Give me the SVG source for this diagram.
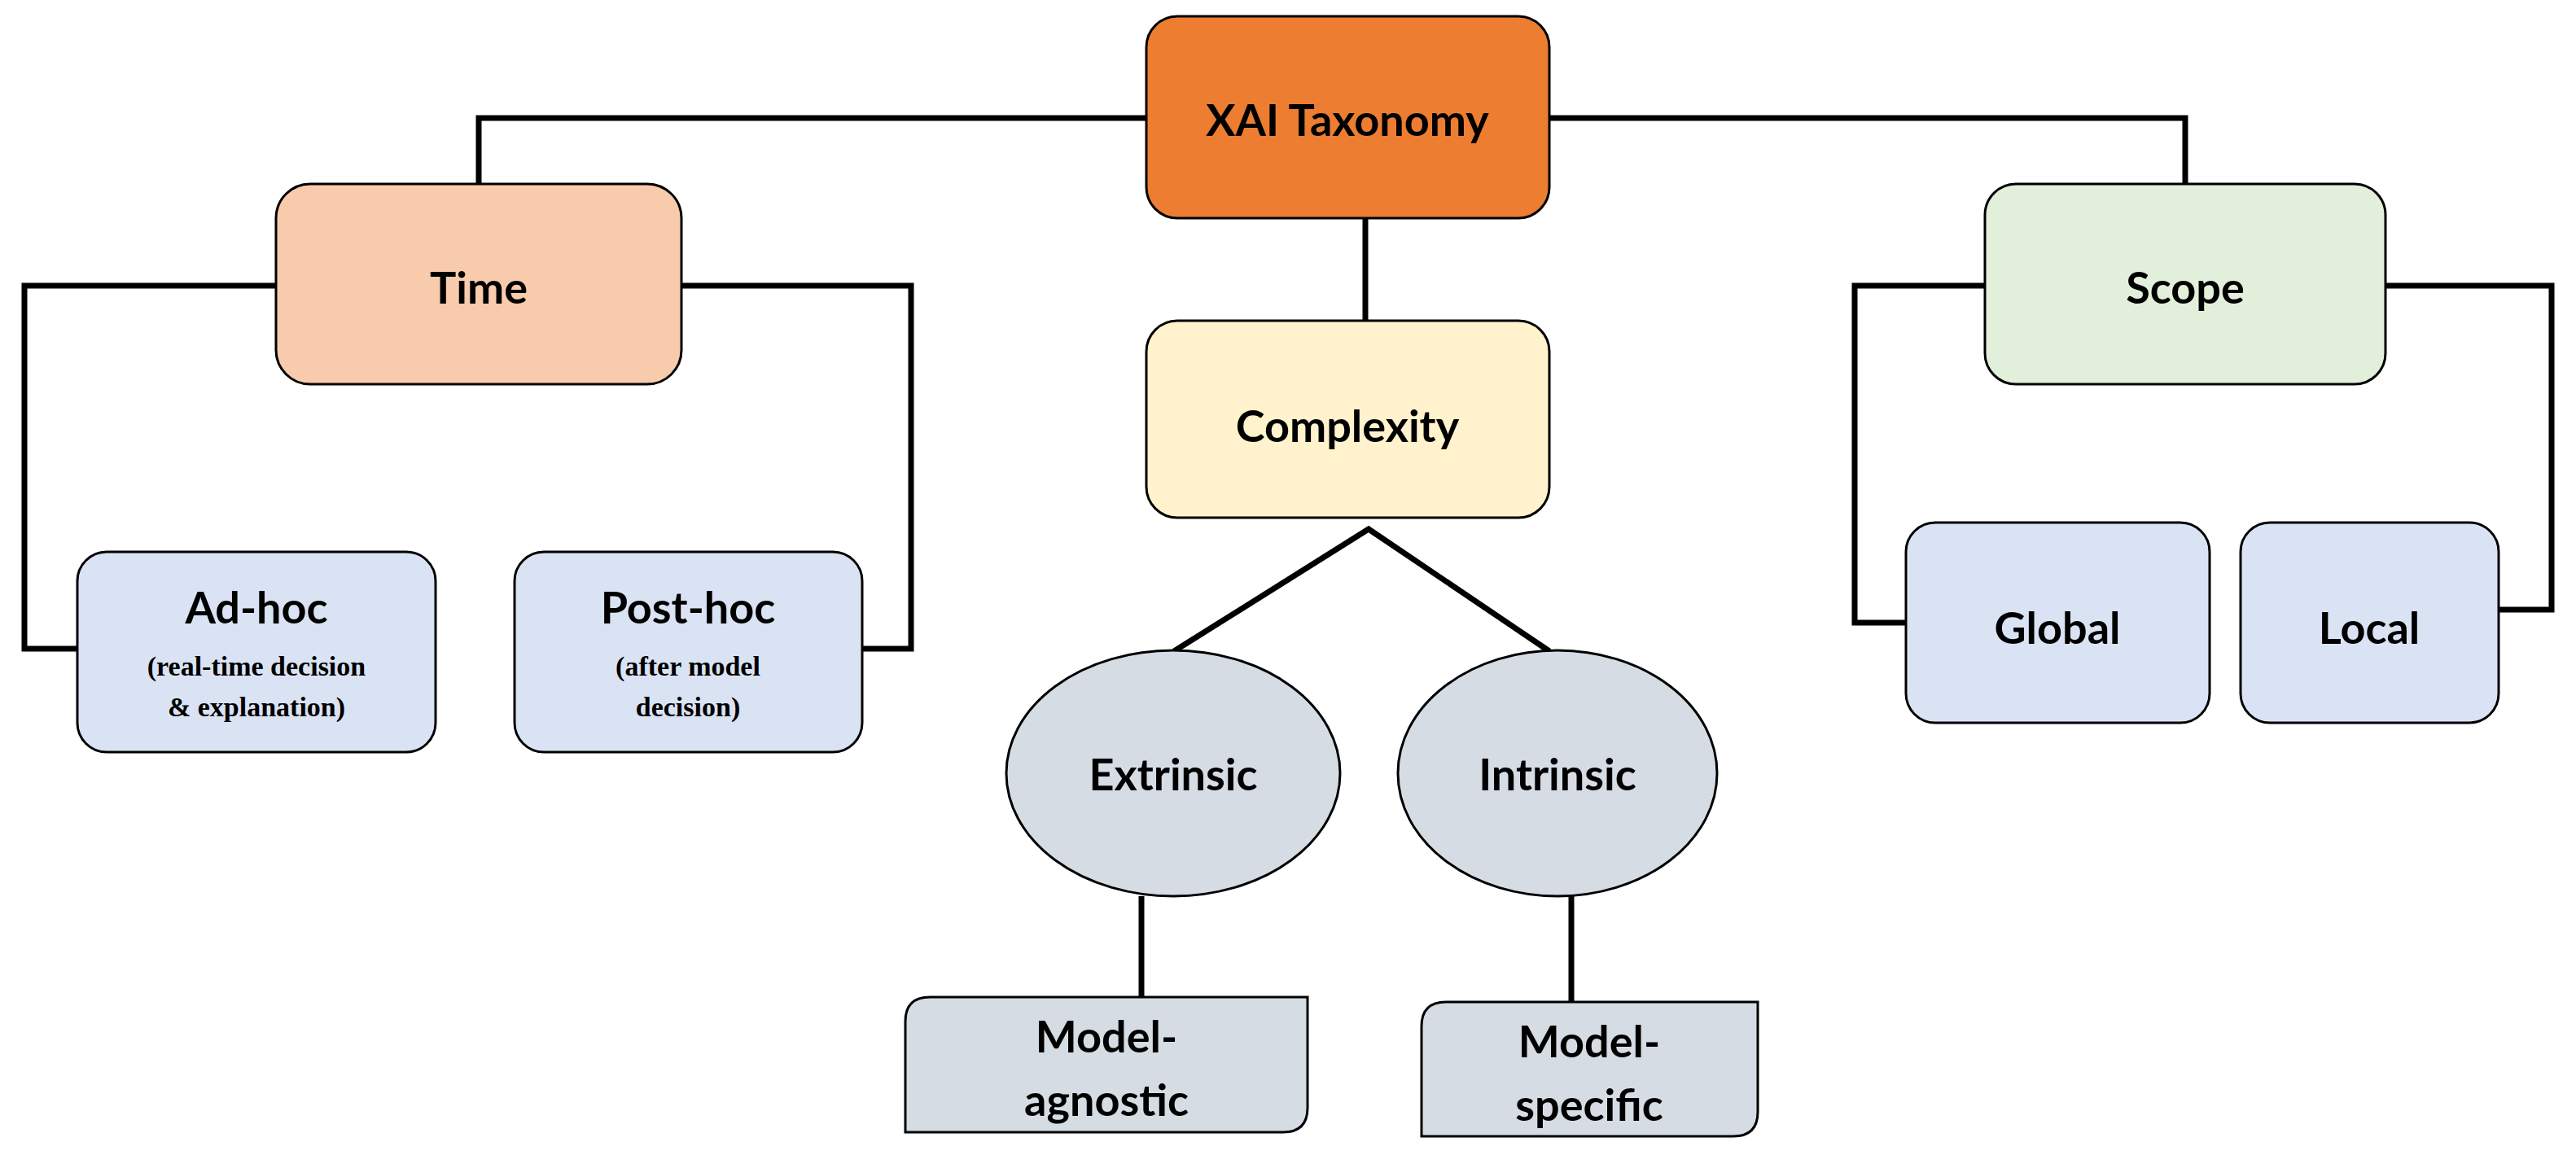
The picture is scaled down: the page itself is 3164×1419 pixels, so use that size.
<svg xmlns="http://www.w3.org/2000/svg" width="3164" height="1419" viewBox="0 0 3164 1419">
<style>
.n{stroke:#000;stroke-width:3}
.t{font-family:Lato,"Open Sans",sans-serif;font-weight:bold;font-size:54px;fill:#000;text-anchor:middle;dominant-baseline:central}
.s{font-family:"Liberation Serif",serif;font-weight:bold;font-size:34px;fill:#000;text-anchor:middle;dominant-baseline:central}
.c{fill:none;stroke:#000;stroke-width:7}
</style>
<rect width="3164" height="1419" fill="#fff"/>
<g id="connectors">
<polyline class="c" points="1410,145 588,145 588,226"/>
<polyline class="c" points="1903,145 2684,145 2684,226"/>
<line class="c" x1="1677" y1="268" x2="1677" y2="394"/>
<polyline class="c" points="339,351 30,351 30,797 95,797"/>
<polyline class="c" points="837,351 1119,351 1119,797 1059,797"/>
<polyline class="c" points="1442,800 1681,650 1903,800"/>
<line class="c" x1="1402" y1="1101" x2="1402" y2="1226"/>
<line class="c" x1="1930" y1="1101" x2="1930" y2="1231"/>
<polyline class="c" points="2438,351 2278,351 2278,765 2341,765"/>
<polyline class="c" points="2930,351 3134,351 3134,749 3069,749"/>
</g>
<g id="xai"><rect class="n" x="1408" y="20" width="495" height="248" rx="38" fill="#ED7D31"/><text class="t" x="1655" y="146">XAI Taxonomy</text></g>
<g id="time"><rect class="n" x="339" y="226" width="498" height="246" rx="42" fill="#F8CBAD"/><text class="t" x="588" y="352">Time</text></g>
<g id="complexity"><rect class="n" x="1408" y="394" width="495" height="242" rx="38" fill="#FFF2CC"/><text class="t" x="1655" y="522">Complexity</text></g>
<g id="scope"><rect class="n" x="2438" y="226" width="492" height="246" rx="38" fill="#E2EFDA"/><text class="t" x="2684" y="352">Scope</text></g>
<g id="adhoc"><rect class="n" x="95" y="678" width="440" height="246" rx="36" fill="#DAE3F3"/><text class="t" x="315" y="745">Ad-hoc</text><text class="s" x="315" y="818">(real-time decision</text><text class="s" x="315" y="868">&amp; explanation)</text></g>
<g id="posthoc"><rect class="n" x="632" y="678" width="427" height="246" rx="36" fill="#DAE3F3"/><text class="t" x="845" y="745">Post-hoc</text><text class="s" x="845" y="818">(after model</text><text class="s" x="845" y="868">decision)</text></g>
<g id="global"><rect class="n" x="2341" y="642" width="373" height="246" rx="36" fill="#DAE3F3"/><text class="t" x="2527" y="770">Global</text></g>
<g id="local"><rect class="n" x="2752" y="642" width="317" height="246" rx="36" fill="#DAE3F3"/><text class="t" x="2910" y="770">Local</text></g>
<g id="extrinsic"><ellipse class="n" cx="1441" cy="950" rx="205" ry="151" fill="#D6DCE4"/><text class="t" x="1441" y="950">Extrinsic</text></g>
<g id="intrinsic"><ellipse class="n" cx="1913" cy="950" rx="196" ry="151" fill="#D6DCE4"/><text class="t" x="1913" y="950">Intrinsic</text></g>
<g id="agnostic"><path class="n" d="M1112,1391 V1255 Q1112,1225 1142,1225 H1606 V1361 Q1606,1391 1576,1391 Z" fill="#D6DCE4"/><text class="t" x="1359" y="1272">Model-</text><text class="t" x="1359" y="1350">agnostic</text></g>
<g id="specific"><path class="n" d="M1746,1396 V1261 Q1746,1231 1776,1231 H2159 V1366 Q2159,1396 2129,1396 Z" fill="#D6DCE4"/><text class="t" x="1952" y="1278">Model-</text><text class="t" x="1952" y="1356">specific</text></g>
</svg>
